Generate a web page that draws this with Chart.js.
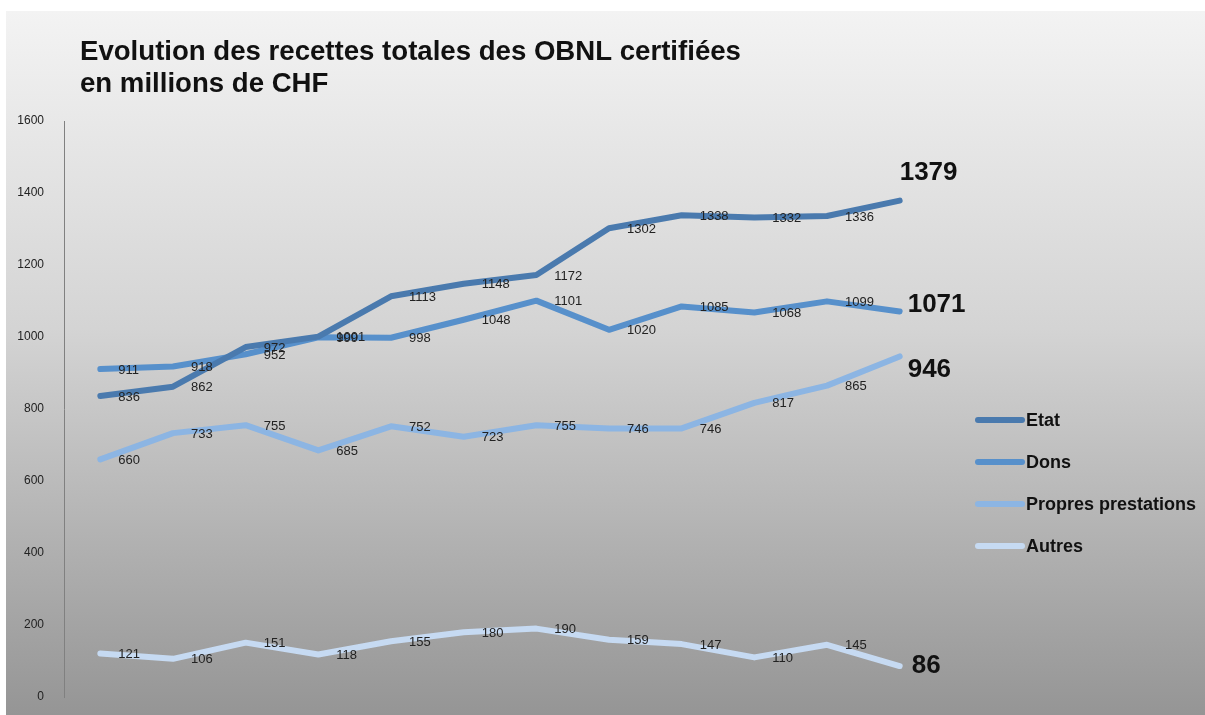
<!DOCTYPE html>
<html>
<head>
<meta charset="utf-8">
<script src="https://cdn.jsdelivr.net/npm/chart.js@4"></script>
<style>
  html, body { margin: 0; padding: 0; background: #fff; }
  #box {
    position: absolute; left: 6px; top: 11px; width: 1199px; height: 704px;
    background: linear-gradient(to bottom, #f3f3f3 0%, #d4d4d4 45%, #959595 100%);
  }
</style>
</head>
<body>
<div id="box"><canvas id="myChart" width="1199" height="704"></canvas></div>
<script>
document.addEventListener("DOMContentLoaded", function(event) {

var years = ["1", "2", "3", "4", "5", "6", "7", "8", "9", "10", "11", "12"];
var seriesNames = ["Etat", "Dons", "Propres prestations", "Autres"];
var etat = [836, 862, 972, 1001, 1113, 1148, 1172, 1302, 1338, 1332, 1336, 1379];
var dons = [911, 918, 952, 999, 998, 1048, 1101, 1020, 1085, 1068, 1099, 1071];
var propres = [660, 733, 755, 685, 752, 723, 755, 746, 746, 817, 865, 946];
var autres = [121, 106, 151, 118, 155, 180, 190, 159, 147, 110, 145, 86];
var yTicks = [0, 200, 400, 600, 800, 1000, 1200, 1400, 1600];
var titleLines = ["Evolution des recettes totales des OBNL certifiées", "en millions de CHF"];

var colors = ["#4a7aae", "#5790cb", "#8cb5e3", "#c6daf2"];
var endShift = [[0, -28], [8, -7], [8, 13], [12, 0]];

function makeSet(i, values) {
    return {
        label: seriesNames[i],
        data: values,
        borderColor: colors[i],
        backgroundColor: colors[i],
        borderWidth: 6,
        borderCapStyle: "round",
        borderJoinStyle: "round",
        pointRadius: 0,
        tension: 0,
        endLabel: endShift[i]
    };
}

// title, labels next to points and legend
var decorations = {
    id: "decorations",
    afterDatasetsDraw: function(chart) {
        var ctx = chart.ctx;
        ctx.save();
        ctx.fillStyle = "#111";
        ctx.font = "bold 27.6px 'Liberation Sans', Arial, sans-serif";
        ctx.textAlign = "left";
        ctx.textBaseline = "alphabetic";
        ctx.fillText(titleLines[0], 74, 49);
        ctx.fillText(titleLines[1], 74, 81);

        ctx.textBaseline = "middle";
        chart.data.datasets.forEach(function(ds, i) {
            var meta = chart.getDatasetMeta(i);
            var last = ds.data.length - 1;
            meta.data.forEach(function(pt, j) {
                if (j < last) {
                    ctx.font = "13px 'Liberation Sans', Arial, sans-serif";
                    ctx.fillStyle = "#222";
                    ctx.fillText(ds.data[j], pt.x + 18, pt.y + 1);
                } else {
                    ctx.font = "bold 26px 'Liberation Sans', Arial, sans-serif";
                    ctx.fillStyle = "#111";
                    ctx.fillText(ds.data[j], pt.x + ds.endLabel[0], pt.y + ds.endLabel[1]);
                }
            });
        });

        // legend
        chart.data.datasets.forEach(function(ds, i) {
            var y = 409 + i * 42;
            ctx.strokeStyle = ds.borderColor;
            ctx.lineWidth = 6;
            ctx.lineCap = "round";
            ctx.beginPath();
            ctx.moveTo(972, y);
            ctx.lineTo(1016, y);
            ctx.stroke();
            ctx.font = "bold 18px 'Liberation Sans', Arial, sans-serif";
            ctx.fillStyle = "#111";
            ctx.fillText(ds.label, 1020, y + 1);
        });
        ctx.restore();
    }
};

var ctx = document.getElementById("myChart");

var myLineChart = new Chart(ctx, {
    type: "line",
    data: {
        labels: years,
        datasets: [makeSet(0, etat), makeSet(1, dons), makeSet(2, propres), makeSet(3, autres)]
    },
    options: {
        responsive: false,
        animation: false,
        layout: {
            padding: { left: 0, top: 110, right: 269, bottom: 18 }
        },
        plugins: {
            legend: { display: false },
            title: { display: false },
            tooltip: { enabled: false }
        },
        scales: {
            x: {
                display: false,
                offset: true
            },
            y: {
                min: yTicks[0],
                max: yTicks[yTicks.length - 1],
                afterFit: function(scale) {
                    scale.width = 58;
                    // tick padding is horizontal only here
                    scale.paddingTop = 7;
                    scale.paddingBottom = 7;
                },
                afterBuildTicks: function(scale) {
                    scale.ticks = yTicks.map(function(v) { return { value: v }; });
                },
                grid: { display: false, drawTicks: false },
                border: { display: true, color: "#808080", width: 1 },
                ticks: {
                    padding: 20,
                    color: "#222",
                    font: { family: "'Liberation Sans', Arial, sans-serif", size: 12 },
                    callback: function(value) { return String(value); }
                }
            }
        }
    },
    plugins: [decorations]
});

});
</script>
</body>
</html>
